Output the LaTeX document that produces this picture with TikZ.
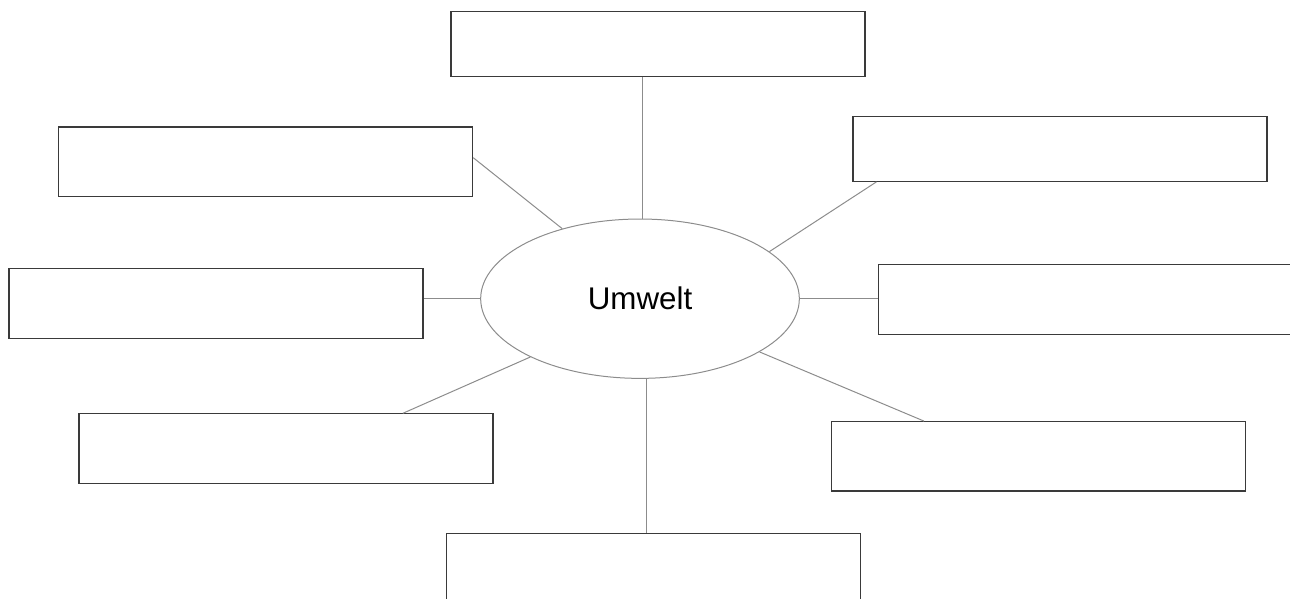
\documentclass[tikz,border=0pt]{standalone}
\usepackage{fontspec}
\setmainfont{Liberation Sans}
\usetikzlibrary{shapes,positioning,calc}
\definecolor{BoxGray}{HTML}{3A3A3A}
\definecolor{LineGray}{HTML}{8C8C8C}

\begin{document}
\begin{tikzpicture}[
    x=0.75pt, y=-0.75pt,
    leerbox/.style={draw=BoxGray, line width=0.8pt, fill=white, minimum width=310.5pt, minimum height=#1, inner sep=0pt},
    leerbox/.default=52pt,
    verbinder/.style={draw=LineGray, line width=0.75pt}
]

  % Rahmen (Bildgroesse)
  \useasboundingbox (0,0) rectangle (1290,599);
  \clip (0,0) rectangle (1290,599);

  % =========================================================================
  % ZENTRUM
  % =========================================================================
  \node[ellipse, draw=LineGray, line width=0.75pt, minimum width=239pt, minimum height=119.5pt, inner sep=0pt, font=\fontsize{23.5}{28}\selectfont] (umwelt) at (640, 298.7) {Umwelt};

  % =========================================================================
  % LEERE KAESTEN
  % =========================================================================
  \node[leerbox=48.5pt] (k_oben) at (658, 44) {};
  \node[leerbox] (k_obenlinks) at (265.7, 161.7) {};
  \node[leerbox=48.5pt] (k_obenrechts) at (1060, 149) {};
  \node[leerbox] (k_links) at (216, 303.6) {};
  \node[leerbox] (k_rechts) at (1085.6, 299.5) {};
  \node[leerbox] (k_untenlinks) at (286, 448.5) {};
  \node[leerbox] (k_untenrechts) at (1038.2, 456.3) {};
  \node[leerbox] (k_unten) at (653.8, 568.2) {};

  % =========================================================================
  % VERBINDER
  % =========================================================================
  \draw[verbinder] ([xshift=1.5pt]umwelt.north) -- ([xshift=1.5pt]umwelt.north |- k_oben.south);
  \draw[verbinder] (umwelt.138) -- ([yshift=3pt]k_obenlinks.east);
  \draw[verbinder] (umwelt.20) -- ([xshift=18pt]k_obenrechts.south west);
  \draw[verbinder] (umwelt.west) -- (k_links.east |- umwelt.west);
  \draw[verbinder] (umwelt.east) -- (k_rechts.west |- umwelt.east);
  \draw[verbinder] (umwelt.208) -- ([xshift=-68pt]k_untenlinks.north east);
  \draw[verbinder] (umwelt.336) -- ([xshift=70pt]k_untenrechts.north west);
  \draw[verbinder] ([xshift=5pt]umwelt.south) -- ([xshift=5pt]umwelt.south |- k_unten.north);

\end{tikzpicture}
\end{document}
